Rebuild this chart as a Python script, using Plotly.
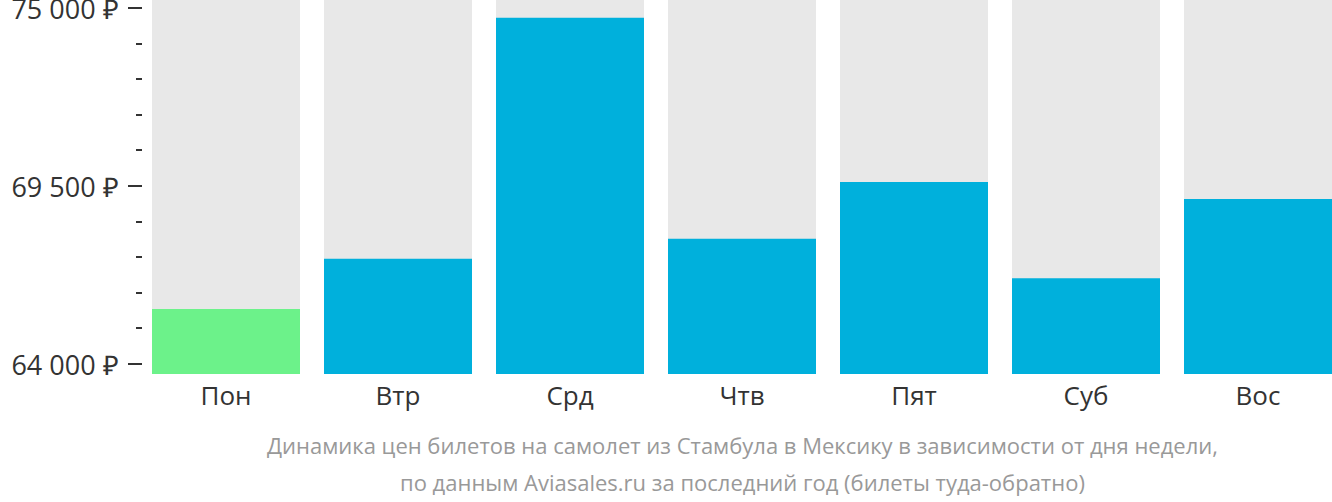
import plotly.graph_objects as go

days = ["Пон", "Втр", "Срд", "Чтв", "Пят", "Суб", "Вос"]
prices = [65700, 67250, 74700, 67870, 69620, 66650, 69100]
bar_colors = ["#6cf28a", "#00b0dc", "#00b0dc", "#00b0dc", "#00b0dc", "#00b0dc", "#00b0dc"]
tick_vals = [64000, 69500, 75000]
tick_text = ["64 000 ₽", "69 500 ₽", "75 000 ₽"]
title_lines = [
    "Динамика цен билетов на самолет из Стамбула в Мексику в зависимости от дня недели,",
    "по данным Aviasales.ru за последний год (билеты туда-обратно)",
]

y_min, y_max = 63691, 75247

fig = go.Figure()
fig.add_trace(go.Bar(x=days, y=[y_max - y_min] * len(days), base=y_min,
                     marker=dict(color="#e8e8e8", line=dict(width=0)), hoverinfo="skip"))
fig.add_trace(go.Bar(x=days, y=[p - y_min for p in prices], base=y_min,
                     marker=dict(color=bar_colors, line=dict(width=0)), hoverinfo="skip"))

W, H = 1332, 502
ml = 142
fig.update_layout(
    width=W, height=H,
    margin=dict(l=ml, r=0, t=0, b=128, autoexpand=False),
    barmode="overlay",
    bargap=24 / 172,
    showlegend=False,
    plot_bgcolor="white", paper_bgcolor="white",
    font=dict(family="Open Sans", color="#333333"),
    xaxis=dict(domain=[10 / (W - ml), 1], range=[-0.5 + 12 / 172, 6.5 - 12 / 172],
               showgrid=False, zeroline=False, showline=False, ticks="",
               automargin=False,
               tickfont=dict(size=26, color="#333333"), ticklabelstandoff=4),
    yaxis=dict(anchor="free", position=0, range=[y_min, y_max],
               showgrid=False, zeroline=False, showline=False,
               automargin=False,
               tickmode="array", tickvals=tick_vals, ticktext=tick_text,
               ticks="outside", ticklen=14, tickwidth=1.5, tickcolor="#333333",
               tickfont=dict(size=27, color="#333333"), ticklabelstandoff=4,
               ticklabelshift=2,
               ticklabeloverflow="allow",
               minor=dict(tick0=64000, dtick=1100, ticks="outside", ticklen=6,
                          tickwidth=2, tickcolor="#333333", showgrid=False)),
)
for i, line in enumerate(title_lines):
    fig.add_annotation(text=line, xref="paper", yref="paper",
                       x=(10 / (W - ml) + 1) / 2, y=(H - 128 - (445 + 37 * i)) / (H - 128),
                       xanchor="center", yanchor="middle", showarrow=False,
                       font=dict(size=22, color="#999999", family="Open Sans"))

fig.write_html("out.html")
